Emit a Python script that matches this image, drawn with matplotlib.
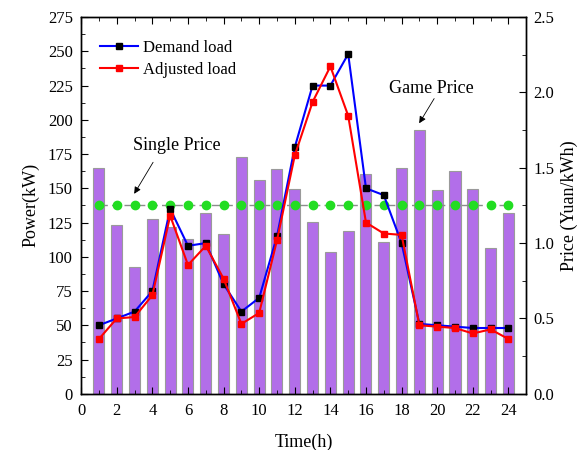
import matplotlib
matplotlib.use("Agg")
import matplotlib.pyplot as plt
import numpy as np
from matplotlib.ticker import MultipleLocator

plt.rcParams['font.family'] = ['Liberation Serif', 'DejaVu Serif']

hours = list(range(1, 25))
demand = [50, 55, 60, 75, 135, 108, 110, 80, 60, 70, 115, 180, 225, 225, 248, 150, 145, 110, 51, 50, 49, 48, 48, 48]
adjusted = [40, 55, 56, 72, 130, 94, 108, 84, 51, 59, 112, 174, 213, 239, 203, 125, 117, 116, 50, 49, 48, 44, 47, 40]
game_price = [1.50, 1.12, 0.84, 1.16, 1.11, 1.03, 1.20, 1.06, 1.57, 1.42, 1.49, 1.36,
              1.14, 0.94, 1.08, 1.46, 1.01, 1.50, 1.75, 1.35, 1.48, 1.36, 0.97, 1.20]
single_price = [1.25] * 24

fig = plt.figure(figsize=(5.84, 4.5), dpi=100)
ax = fig.add_axes([0.139, 0.125, 0.762, 0.837])
ax2 = ax.twinx()

ax2.bar(hours, game_price, width=0.62, color='#b26ee9', edgecolor='#9a9a9a', linewidth=0.8, zorder=1)
ax2.plot(hours, single_price, color='#8c8c8c', linestyle=(0, (6, 3)), linewidth=1.0,
         marker='o', markersize=6, markerfacecolor='#22dd22', markeredgecolor='#22dd22', zorder=2)
ax2.set_ylim(0, 2.5)
ax2.yaxis.set_minor_locator(MultipleLocator(0.25))
ax2.set_yticks([0, 0.5, 1.0, 1.5, 2.0, 2.5])
ax2.set_yticklabels(['0.0', '0.5', '1.0', '1.5', '2.0', '2.5'])
ax2.set_ylabel('Price (Yuan/kWh)', fontsize=13, labelpad=5)
ax2.tick_params(axis='y', which='both', direction='in', labelsize=12)
ax2.tick_params(axis='y', which='major', length=5, pad=5)
ax2.tick_params(axis='y', which='minor', length=3)

ax.set_zorder(ax2.get_zorder() + 1)
ax.patch.set_visible(False)

ax.plot(hours, demand, color='#0000ff', linewidth=1.5, marker='s', markersize=4.5,
        markerfacecolor='black', markeredgecolor='black', label='Demand load')
ax.plot(hours, adjusted, color='#ff0000', linewidth=1.5, marker='s', markersize=4.5,
        markerfacecolor='#ff0000', markeredgecolor='#ff0000', label='Adjusted load')

ax.set_xlim(0, 25)
ax.set_ylim(0, 275)
ax.set_xticks(range(0, 25, 2))
ax.xaxis.set_minor_locator(MultipleLocator(1))
ax.yaxis.set_major_locator(MultipleLocator(25))
ax.yaxis.set_minor_locator(MultipleLocator(12.5))
ax.tick_params(which='both', direction='in', top=True, labelsize=12)
ax.tick_params(which='major', length=5)
ax.tick_params(which='minor', length=3)
ax.tick_params(axis='x', which='major', pad=7)
ax.tick_params(axis='y', which='major', pad=6)
ax.set_xlabel('Time(h)', fontsize=13, labelpad=10)
ax.set_ylabel('Power(kW)', fontsize=13, labelpad=6)

ax.legend(loc='upper left', bbox_to_anchor=(0.02, 0.965), frameon=False, fontsize=12,
          handlelength=2.3, handletextpad=0.3, labelspacing=0.35, borderaxespad=0.2)

ax.text(5.4, 175, 'Single Price', fontsize=13, ha='center', va='bottom')
ax.annotate('', xy=(2.98, 146), xytext=(4.04, 169),
            arrowprops=dict(arrowstyle='-|>', color='black', lw=0.6, mutation_scale=10,
                            shrinkA=0, shrinkB=0))
ax.text(19.7, 217, 'Game Price', fontsize=13, ha='center', va='bottom')
ax.annotate('', xy=(18.99, 197.5), xytext=(19.83, 215.5),
            arrowprops=dict(arrowstyle='-|>', color='black', lw=0.6, mutation_scale=10,
                            shrinkA=0, shrinkB=0))

for a in (ax, ax2):
    for s in a.spines.values():
        s.set_linewidth(1.0)

fig.savefig('out.png', dpi=100)
